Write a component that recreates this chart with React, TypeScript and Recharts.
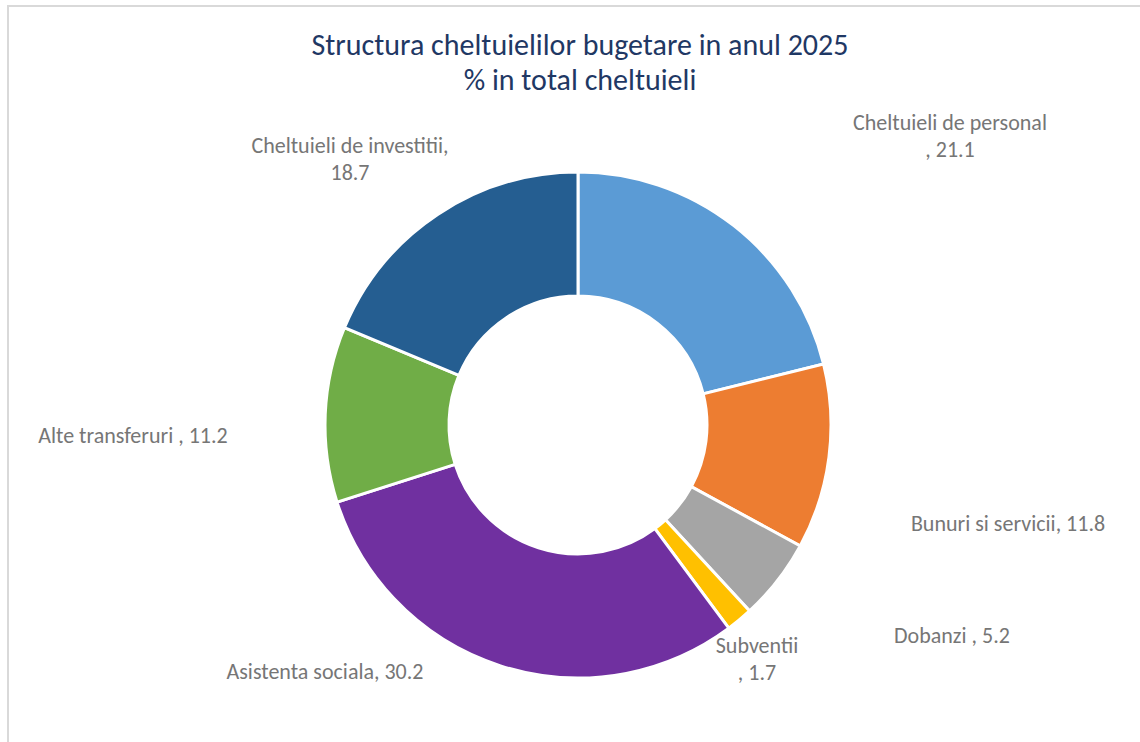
import { Cell, Pie, PieChart } from 'recharts'

const categories = [
  'Cheltuieli de personal',
  'Bunuri si servicii',
  'Dobanzi',
  'Subventii',
  'Asistenta sociala',
  'Alte transferuri',
  'Cheltuieli de investitii',
]
const shares = [21.1, 11.8, 5.2, 1.7, 30.2, 11.2, 18.7]
const colors = ['#5B9BD5', '#ED7D31', '#A5A5A5', '#FFC000', '#7030A0', '#70AD47', '#255E91']

const titleLines = ['Structura cheltuielilor bugetare in anul 2025', '% in total cheltuieli']

const FONT = "Carlito, Calibri, 'Liberation Sans Narrow', 'Open Sans', sans-serif"

// how each label was wrapped in the original
function labelText(i: number): string[] {
  const n = categories[i]
  const v = shares[i].toFixed(1)
  switch (i) {
    case 0: return [n, `, ${v}`]
    case 1: return [`${n}, ${v}`]
    case 2: return [`${n} , ${v}`]
    case 3: return [n, `, ${v}`]
    case 4: return [`${n}, ${v}`]
    case 5: return [`${n} , ${v}`]
    default: return [`${n},`, v]
  }
}

// label anchor relative to the pie centre (first line), and line gap
const labelPos: [number, number][] = [
  [372, -303], [430, 98], [374, 210], [179, 220], [-253, 246], [-445, 10], [-228, -280],
]
const GAP = 27

const rows = categories.map((name, i) => ({ name, value: shares[i] }))

function renderLabel(props: any) {
  const { cx, cy, index } = props
  const [dx, dy] = labelPos[index]
  const lines = labelText(index)
  return (
    <text
      key={`lbl-${index}`}
      x={cx + dx}
      y={cy + dy}
      textAnchor="middle"
      dominantBaseline="central"
      fill="#767676"
      fontSize={22}
      fontFamily={FONT}
    >
      {lines.map((l, j) => (
        <tspan key={j} x={cx + dx} dy={j === 0 ? 0 : GAP}>{l}</tspan>
      ))}
    </text>
  )
}

export default function App() {
  return (
    <div
      style={{
        position: 'absolute', left: 7, top: 5, width: 1133, height: 737,
        borderLeft: '2px solid #D9D9D9', borderTop: '2px solid #D9D9D9',
        boxSizing: 'border-box', overflow: 'hidden', background: '#fff',
      }}
    >
      <div
        style={{
          position: 'absolute', left: 571, top: 20, transform: 'translateX(-50%)',
          textAlign: 'center', whiteSpace: 'nowrap', fontFamily: FONT,
          fontSize: 30, lineHeight: '35px', color: '#1F3864',
        }}
      >
        {titleLines.map(t => <div key={t}>{t}</div>)}
      </div>
      <PieChart width={1131} height={735}>
        <Pie
          data={rows}
          dataKey="value"
          nameKey="name"
          cx={564}
          cy={413}
          innerRadius={129}
          outerRadius={253}
          startAngle={90}
          endAngle={-270}
          stroke="#fff"
          strokeWidth={3}
          label={renderLabel}
          labelLine={false}
          isAnimationActive={false}
        >
          {rows.map((r, i) => <Cell key={r.name} fill={colors[i]} />)}
        </Pie>
      </PieChart>
    </div>
  )
}
